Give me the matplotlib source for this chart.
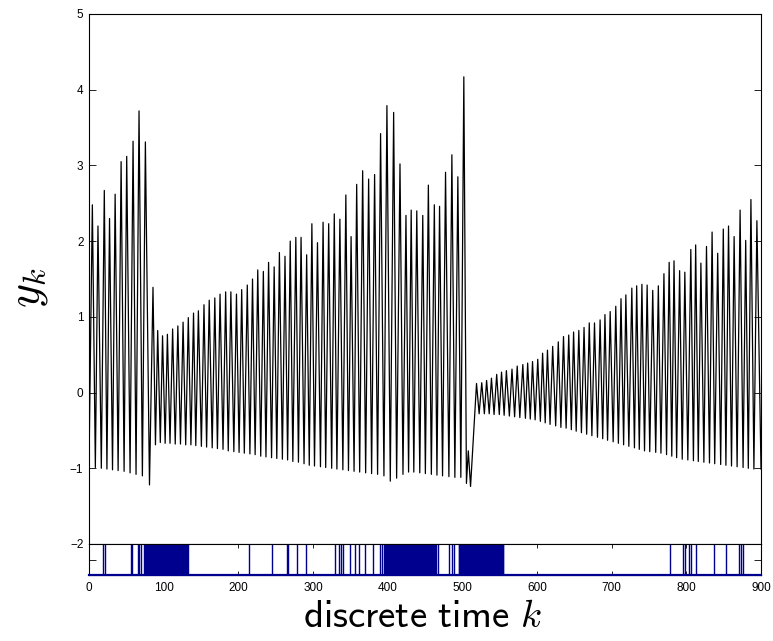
import numpy as np
import matplotlib
matplotlib.use('Agg')
import matplotlib.pyplot as plt

plt.rcParams['font.family'] = ['Liberation Sans', 'DejaVu Sans']
plt.rcParams['mathtext.fontset'] = 'cm'

# peaks of y_k (time, value)
peak_k = [4.5, 12, 20.5, 27.5, 35, 43, 50.5, 59, 67, 75.5,
          85.7, 92, 98.5, 105, 112, 119, 126, 133, 140, 146.5, 154,
          161, 168.5, 175.5, 183, 190, 197.5, 204.5, 212, 219, 226, 233.5, 240.5, 248, 255, 262.5, 269.5, 277,
          284, 291.5, 298.5, 306, 313.5, 321, 328.5, 336, 344, 351, 358.5, 366.5, 374.5, 382.5, 390.5,
          399, 408, 416.5, 424.5, 431.5, 439, 447, 454.5, 462.5, 469.5, 477.5, 486, 494, 502, 508,
          519, 526, 532.5, 539, 546, 552.5, 559, 566.5, 573.5, 581, 587.5, 594, 601, 607.5, 614, 621,
          628.5, 635.5, 642.5, 649, 656, 663, 670, 677, 684.5, 691, 698, 705.5, 712.5, 719, 727, 733.5,
          740.5, 747.5, 755, 762.5, 770, 777, 783.5, 791, 798, 806, 812.5, 819.5, 827, 834.5, 842, 849.5,
          856.5, 864, 872, 879.5, 886.5, 894.5]
peak_y = [2.48, 2.20, 2.67, 2.30, 2.62, 3.05, 3.12, 3.32, 3.72, 3.31,
          1.39, 0.82, 0.75, 0.77, 0.84, 0.88, 0.93, 0.99, 1.05, 1.08, 1.16,
          1.22, 1.25, 1.30, 1.33, 1.33, 1.30, 1.36, 1.42, 1.50, 1.62, 1.60, 1.72, 1.66, 1.85, 1.80, 2.00, 2.05,
          2.05, 1.82, 2.23, 1.98, 2.25, 2.23, 2.36, 2.29, 2.61, 2.06, 2.75, 2.93, 2.82, 2.88, 3.42,
          3.79, 3.70, 3.02, 2.34, 2.41, 2.40, 2.34, 2.74, 2.48, 2.46, 2.91, 3.14, 2.85, 4.17, -0.77,
          0.12, 0.13, 0.16, 0.19, 0.24, 0.27, 0.29, 0.31, 0.35, 0.37, 0.39, 0.41, 0.44, 0.52, 0.56, 0.61,
          0.67, 0.74, 0.76, 0.80, 0.82, 0.86, 0.92, 0.92, 0.96, 1.03, 1.07, 1.14, 1.24, 1.29, 1.38, 1.41,
          1.43, 1.42, 1.35, 1.41, 1.57, 1.72, 1.74, 1.61, 1.59, 1.89, 1.95, 1.71, 1.93, 2.12, 1.84, 2.16,
          2.20, 2.06, 2.41, 2.01, 2.55, 2.27]

# troughs of y_k
trough_k = [0, 8.5, 16.5, 24, 31.5, 39, 47, 55, 63, 71.5, 81,
            89, 95.5, 102, 108.5, 115.5, 122.5, 129.5, 136.5, 143, 150.5, 157.5,
            165, 172, 179.5, 186.5, 194, 201, 208, 215.5, 222.5, 230, 237, 244.5, 251.5, 259, 266, 273, 280.5,
            288, 295, 302, 310, 317, 325, 332, 340, 347.5, 355, 362.5, 370.5, 378.5, 386.5, 395,
            403.5, 412, 420.5, 428, 435, 443, 450.5, 458.5, 466, 473.5, 482, 490, 498, 505.5, 511,
            522.5, 529.5, 536, 542.5, 549.5, 556, 563, 570, 577, 584.5, 591, 597.5, 604.5, 611, 617.5, 625,
            632, 639, 646, 652.5, 659.5, 666.5, 673.5, 681, 688, 694.5, 702, 709, 716, 723, 730.5, 737,
            744, 751, 759, 766, 773.5, 780.5, 787, 794.5, 802, 809.5, 816, 823.5, 831, 838, 846, 853,
            860.5, 868, 876, 883, 890.5, 900]
trough_y = [-0.95, -0.99, -1.00, -1.01, -1.02, -1.03, -1.04, -1.06, -1.08, -1.10, -1.22,
            -0.69, -0.66, -0.67, -0.67, -0.68, -0.68, -0.69, -0.69, -0.70, -0.71, -0.72,
            -0.73, -0.74, -0.75, -0.77, -0.78, -0.79, -0.80, -0.81, -0.82, -0.84, -0.85, -0.86, -0.87,
            -0.88, -0.89, -0.91, -0.92,
            -0.94, -0.96, -0.97, -0.98, -0.99, -1.00, -1.01, -1.02, -1.03, -1.04, -1.05, -1.06, -1.07,
            -1.08, -1.10, -1.17, -1.13, -1.08, -1.05, -1.05, -1.06, -1.07, -1.08, -1.09, -1.10, -1.11,
            -1.12, -1.12, -1.20, -1.24,
            -0.28, -0.28, -0.28, -0.29, -0.29, -0.30, -0.31, -0.32, -0.33, -0.34, -0.35, -0.36, -0.38,
            -0.40, -0.42, -0.44, -0.46, -0.47, -0.49, -0.51, -0.53, -0.55, -0.57, -0.59, -0.61, -0.63,
            -0.65, -0.67, -0.69, -0.71, -0.73, -0.75, -0.77, -0.78, -0.79, -0.80, -0.82, -0.84, -0.86,
            -0.88, -0.89, -0.90, -0.91, -0.92, -0.93, -0.94, -0.95, -0.96, -0.97, -0.98, -0.99, -1.00,
            -1.01, -1.01]

# event times shown in the bottom strip
event_k = [19, 22, 56, 58, 65, 67, 70,
           74, 75, 76, 77, 78, 79, 80, 81, 82, 83, 84, 85, 86, 87, 88, 89, 90, 91, 92, 93, 94, 95,
           96, 97, 98, 99, 100, 101, 102, 103, 104, 105, 106, 107, 108, 109, 110, 111, 112, 113,
           114, 115, 116, 117, 118, 119, 120, 121, 122, 123, 124, 125, 126, 127, 128, 129, 130,
           131, 132,
           214, 245, 265, 267, 278, 291,
           329, 335, 337, 340, 349, 356, 362, 369, 381, 390, 392,
           395, 396, 397, 398, 399, 400, 401, 402, 403, 404, 405, 406, 407, 408, 409, 410, 411,
           412, 413, 414, 415, 416, 417, 418, 419, 420, 421, 422, 423, 424, 425, 426, 427, 428,
           429, 430, 431, 432, 433, 434, 435, 436, 437, 438, 439, 440, 441, 442, 443, 444, 445,
           446, 447, 448, 449, 450, 451, 452, 453, 454, 455, 456, 457, 458, 459, 460, 461, 462,
           463, 464, 465,
           468, 482, 486, 489,
           495, 496, 497, 498, 499, 500, 501, 502, 503, 504, 505, 506, 507, 508, 509, 510, 511,
           512, 513, 514, 515, 516, 517, 518, 519, 520, 521, 522, 523, 524, 525, 526, 527, 528,
           529, 530, 531, 532, 533, 534, 535, 536, 537, 538, 539, 540, 541, 542, 543, 544, 545,
           546, 547, 548, 549, 550, 551, 552, 553, 554, 555,
           778, 796, 798, 804, 806, 813, 837, 853, 871, 873, 876]

xticks = [0, 100, 200, 300, 400, 500, 600, 700, 800, 900]
yticks = [-2, -1, 0, 1, 2, 3, 4, 5]

ext_k = np.array(peak_k + trough_k)
ext_y = np.array(peak_y + trough_y)
order = np.argsort(ext_k)
k = ext_k[order]
y = ext_y[order]

fig = plt.figure(figsize=(7.73, 6.41), dpi=100)
left, width = 89 / 773, 672 / 773
ax = fig.add_axes([left, 1 - 544 / 641, width, 530 / 641])
ax2 = fig.add_axes([left, 1 - 575 / 641, width, 31 / 641])

ax.plot(k, y, color='black', lw=0.9)
ax.set_xlim(0, 900)
ax.set_ylim(-2, 5)
ax.set_xticks([])
ax.set_yticks(yticks)
ax.tick_params(axis='y', direction='in', left=True, right=True, length=5, width=0.6,
               labelsize=8.5, pad=4)

blue = '#00008f'
ax2.vlines(event_k, 0, 1, color=blue, lw=1.0)
ax2.axhline(0, color=blue, lw=1.6, clip_on=False, zorder=3)
ax2.set_xlim(0, 900)
ax2.set_ylim(0, 1)
ax2.set_xticks(xticks)
ax2.set_yticks([0.5])
ax2.set_yticklabels([])
ax2.tick_params(axis='x', direction='in', top=True, bottom=True, length=3, width=0.6,
                labelsize=8.5, pad=5)
ax2.tick_params(axis='y', direction='in', left=True, right=True, length=5, width=0.6)

for a in (ax, ax2):
    for s in a.spines.values():
        s.set_linewidth(0.8)

fig.text(28 / 773, 1 - 288 / 641, r'$y_k$', rotation=90, ha='center', va='center', fontsize=33)
fig.text(423 / 773, 1 - 617 / 641, r'$\mathsf{discrete\ time}\ k$', ha='center', va='center',
         fontsize=28)

fig.savefig('out.png', dpi=100)
